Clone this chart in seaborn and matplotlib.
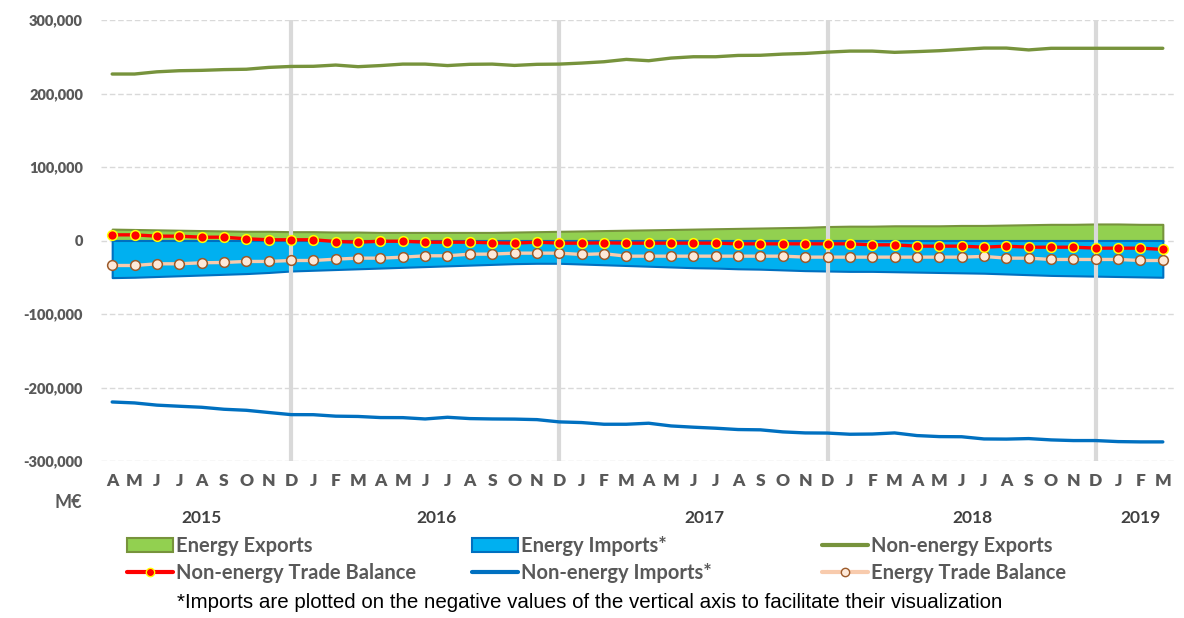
import matplotlib
matplotlib.use("Agg")
import matplotlib.pyplot as plt
import matplotlib.transforms as mtransforms
from matplotlib.patches import Patch
from matplotlib.lines import Line2D
from matplotlib.ticker import FuncFormatter, MultipleLocator
import numpy as np
import pandas as pd
import seaborn as sns

# Monthly series, April 2015 - March 2019 (M€)
month_letters = list("AMJJASONDJFM") * 4
years = ["2015", "2016", "2017", "2018", "2019"]
months_per_year = [9, 12, 12, 12, 3]

energy_exports = [
    15500, 15000, 14500, 14000, 13500, 13000, 12500, 12500,
    12000, 12000, 11500, 11500, 11000, 11000, 11000, 11000,
    11000, 11000, 11500, 12000, 12500, 13000, 13500, 14000,
    14500, 15000, 15500, 16000, 16500, 17000, 17500, 18000,
    19000, 19500, 19500, 20000, 20000, 20000, 20500, 20500,
    21000, 21500, 22000, 22000, 22500, 22500, 22000, 22000,
]
energy_imports = [
    50500, 50000, 49000, 48000, 47000, 46000, 45000, 43500,
    41500, 40500, 39500, 38500, 37500, 36500, 35500, 34500,
    33500, 32500, 31500, 31000, 31000, 32000, 33000, 34000,
    35000, 36000, 37000, 37500, 38500, 39000, 40000, 41000,
    41500, 42000, 42000, 42500, 43000, 43500, 44000, 44500,
    45500, 46500, 47500, 48000, 48500, 49000, 49500, 50000,
]
non_energy_exports = [
    226500, 226500, 229500, 231000, 231500, 232500, 233000, 235500,
    236800, 237000, 238700, 236500, 238000, 240000, 240000, 238000,
    239700, 240000, 238200, 239700, 240000, 241400, 243200, 246400,
    244600, 248200, 250000, 250000, 251800, 252000, 253600, 254500,
    256300, 257700, 257700, 256000, 257000, 258200, 260000, 261800,
    261800, 259300, 261500, 261500, 261500, 261500, 261500, 261500,
]
non_energy_imports = [
    219700, 221000, 224000, 225500, 226900, 229600, 231000, 234000,
    236900, 237000, 239000, 239400, 240900, 241000, 242800, 240500,
    242300, 242800, 243000, 243700, 246800, 247700, 250000, 250000,
    248600, 252300, 254000, 255400, 257200, 257600, 260400, 261800,
    262000, 263600, 263300, 261800, 265400, 266800, 267000, 270000,
    270200, 269500, 271300, 272200, 272200, 273600, 274000, 274000,
]
non_energy_balance = [
    7700, 7700, 5900, 5900, 4500, 4500, 2300, 1000,
    1000, 1000, -1400, -2300, -1000, -1000, -2300, -2300,
    -2300, -3200, -3600, -2300, -3600, -3600, -3200, -3600,
    -3600, -3600, -3600, -3600, -4500, -4500, -4500, -4500,
    -4500, -4500, -5900, -5900, -7700, -7700, -7700, -9100,
    -7700, -9100, -9100, -9100, -10400, -10400, -10400, -12200,
]
energy_balance = [
    -34000, -34000, -31700, -31700, -30300, -29900, -28500, -28500,
    -27200, -27200, -25400, -24000, -24000, -22700, -20800, -20800,
    -18600, -18500, -17200, -17200, -17200, -19000, -18000, -21300,
    -21300, -21300, -21300, -21300, -21300, -21300, -21300, -22600,
    -22600, -22600, -22600, -22600, -22600, -22600, -22600, -21700,
    -24000, -24000, -25800, -25800, -25800, -25800, -27200, -27200,
]

df = pd.DataFrame({
    "idx": np.arange(len(month_letters)),
    "energy_exports": energy_exports,
    "energy_imports": -np.array(energy_imports),
    "non_energy_exports": non_energy_exports,
    "non_energy_imports": -np.array(non_energy_imports),
    "non_energy_balance": non_energy_balance,
    "energy_balance": energy_balance,
})

sns.set_theme(style="white")
plt.rcParams["font.family"] = ["Lato", "DejaVu Sans"]

GREY_TXT = "#595959"
fig = plt.figure(figsize=(11.84, 6.18), dpi=100)
W, H = 1184, 618
ax = fig.add_axes([101 / W, 1 - 461 / H, (1174 - 101) / W, (461 - 20) / H])

# horizontal dashed grid
for v in range(-300000, 300001, 100000):
    ax.axhline(v, color="#D9D9D9", lw=1, ls=(0, (4, 2)), zorder=0)

# stacked energy areas
ax.fill_between(df["idx"], 0, df["energy_exports"], facecolor="#92D050",
                edgecolor="#77933C", lw=1.5, zorder=1)
ax.fill_between(df["idx"], 0, df["energy_imports"], facecolor="#00B0F0",
                edgecolor="#0070C0", lw=1.5, zorder=1)

# December separators
for i, m in enumerate(month_letters):
    if m == "D":
        ax.axvline(i, color="#D9D9D9", lw=3, zorder=2)

sns.lineplot(data=df, x="idx", y="non_energy_exports", ax=ax, color="#77933C",
             lw=2.4, zorder=3)
sns.lineplot(data=df, x="idx", y="non_energy_imports", ax=ax, color="#0070C0",
             lw=2.4, zorder=3)
sns.lineplot(data=df, x="idx", y="energy_balance", ax=ax, color="#F8CBAD",
             lw=2.4, marker="o", markersize=7, markerfacecolor="#FDE9D9",
             markeredgecolor="#9C5A2A", markeredgewidth=1.1, zorder=4)
sns.lineplot(data=df, x="idx", y="non_energy_balance", ax=ax, color="#FF0000",
             lw=2.4, marker="o", markersize=7, markerfacecolor="#FF0000",
             markeredgecolor="#FFFF00", markeredgewidth=1.1, zorder=5)

ax.set_xlim(-0.5, len(month_letters) - 0.5)
ax.set_ylim(-300000, 300000)
ax.yaxis.set_major_locator(MultipleLocator(100000))
ax.yaxis.set_major_formatter(FuncFormatter(lambda v, p: f"{int(v):,}"))
ax.set_xticks(df["idx"])
ax.set_xticklabels(month_letters)
ax.tick_params(axis="y", length=0, pad=13, labelsize=10.5, labelcolor=GREY_TXT)
ax.tick_params(axis="x", length=0, pad=9, labelsize=12.5, labelcolor=GREY_TXT)
for lab in ax.get_xticklabels() + ax.get_yticklabels():
    lab.set_fontweight("heavy")
ax.set_xlabel("")
ax.set_ylabel("")
for s in ax.spines.values():
    s.set_visible(False)
ax.grid(False)

# year labels under the month letters
trans = mtransforms.blended_transform_factory(ax.transData, fig.transFigure)
start = 0
for yr, n in zip(years, months_per_year):
    center = start + (n - 1) / 2
    ax.text(center, 1 - 518 / H, yr, transform=trans, ha="center", va="center",
            fontsize=12.5, fontweight="bold", color="#404040")
    start += n

fig.text(68 / W, 1 - 502 / H, "M€", ha="center", va="center", fontsize=13,
         fontweight="bold", color=GREY_TXT)

# legend, three columns
h_ee = Patch(facecolor="#92D050", edgecolor="#77933C", lw=1.5)
h_ei = Patch(facecolor="#00B0F0", edgecolor="#0070C0", lw=1.5)
h_nee = Line2D([], [], color="#77933C", lw=3)
h_nei = Line2D([], [], color="#0070C0", lw=3)
h_neb = Line2D([], [], color="#FF0000", lw=3, marker="o", markersize=6,
               markerfacecolor="#FF0000", markeredgecolor="#FFFF00")
h_eb = Line2D([], [], color="#F8CBAD", lw=3, marker="o", markersize=6,
              markerfacecolor="#FDE9D9", markeredgecolor="#9C5A2A")

columns = [
    (127, [h_ee, h_neb], ["Energy Exports", "Non-energy Trade Balance"]),
    (472, [h_ei, h_nei], ["Energy Imports*", "Non-energy Imports*"]),
    (822, [h_nee, h_eb], ["Non-energy Exports", "Energy Trade Balance"]),
]
for xpx, hs, labs in columns:
    leg = fig.legend(hs, labs, loc="upper left",
                     bbox_to_anchor=(xpx / W, 1 - 536 / H), frameon=False,
                     fontsize=14.5, handlelength=2.3, handleheight=0.75,
                     handletextpad=0.12, labelspacing=0.34, borderpad=0,
                     borderaxespad=0)
    for t in leg.get_texts():
        t.set_color(GREY_TXT)
        t.set_fontweight("bold")

fig.text(590 / W, 1 - 603 / H,
         "*Imports are plotted on the negative values of the vertical axis to facilitate their visualization",
         ha="center", va="center", fontsize=14.8, family="Liberation Sans",
         color="black")

fig.savefig("out.png", dpi=100)
